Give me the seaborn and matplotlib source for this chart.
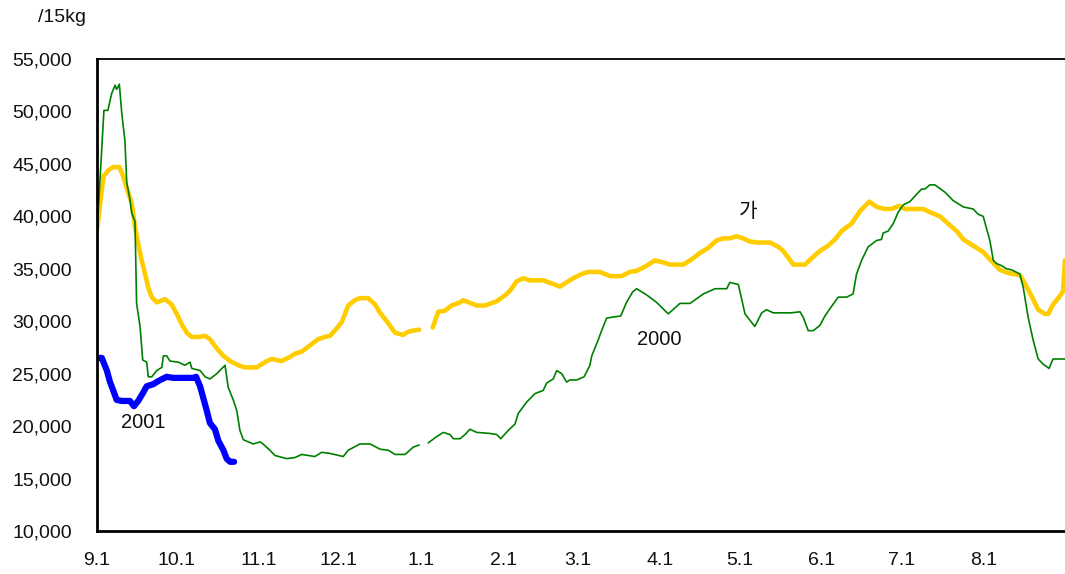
#!/usr/bin/env python3
"""Daily price per 15kg: 2000 season, 2001 season and the 가 series."""

import matplotlib

matplotlib.use("Agg")

import matplotlib.pyplot as plt
import numpy as np
import pandas as pd
import seaborn as sns

# x = days since 9.1, NaN marks the break around 1.1
GREEN_DAYS = [
    0, 2.6, 4.1, 5.5, 6.8, 7.4, 8.4, 9.3, 10.5, 11.2, 12.4, 13.1, 14.3, 14.9,
    16.2, 17.2, 18.7, 19.3, 20.6, 22.5, 24.4, 25.0, 26.2, 27.5, 30.6, 33.1,
    35.0, 35.7, 38.8, 40.7, 42.5, 45.1, 48.2, 49.4, 51.3, 52.6, 53.8, 55.1,
    58.8, 61.4, 62.5, 65.1, 67.0, 71.4, 74.5, 77.1, 82.0, 84.6, 87.7, 92.7,
    94.6, 99.0, 102.8, 106.6, 109.7, 112.2, 116.0, 119.1, 121.3, 122.5,
    124.7, 127.9, 130.4, 132.9, 134.2, 136.7, 138.6, 140.4, 143.0, 148.0,
    150.5, 152.0, 154.9, 157.4, 158.6, 161.8, 164.9, 168.0, 169.3, 171.8,
    173.1, 175.0, 176.8, 178.1, 180.6, 183.4, 185.6, 186.3, 188.7, 190.0,
    191.9, 194.4, 197.2, 199.4, 201.7, 203.2, 207.0, 210.7, 215.1, 219.5,
    223.3, 228.3, 232.7, 237.1, 238.3, 241.5, 244.0, 247.7, 250.3, 252.1,
    254.6, 261.5, 264.7, 265.9, 267.8, 269.7, 272.2, 274.1, 276.0, 279.1,
    282.3, 284.7, 286.0, 287.9, 290.4, 293.6, 295.4, 296.0, 297.9, 299.8,
    301.7, 303.6, 306.1, 308.6, 310.5, 311.7, 313.6, 315.5, 319.3, 322.4,
    326.2, 329.9, 331.8, 333.7, 335.0, 336.2, 337.5, 338.7, 340.6, 342.5,
    344.4, 347.5, 348.8, 350.6, 352.5, 354.4, 356.3, 358.5, 360.0, 364.5,
]
GREEN_PRICE = [
    38500, 50100, 50100, 51700, 52500, 52100, 52600, 49900, 47200, 43200,
    41600, 40300, 39500, 31700, 29500, 26300, 26100, 24700, 24700, 25300,
    25600, 26700, 26700, 26200, 26100, 25800, 26100, 25500, 25300, 24700,
    24500, 25000, 25800, 23700, 22500, 21500, 19600, 18700, 18300, 18500,
    18300, 17700, 17200, 16900, 17000, 17300, 17100, 17500, 17400, 17100,
    17700, 18300, 18300, 17800, 17700, 17300, 17300, 18000, 18200, np.nan,
    18400, 19000, 19400, 19200, 18800, 18800, 19200, 19700, 19400, 19300,
    19200, 18800, 19600, 20200, 21200, 22300, 23100, 23400, 24100, 24500,
    25300, 25000, 24200, 24400, 24400, 24700, 25800, 26700, 28200, 29100,
    30300, 30400, 30500, 31800, 32800, 33100, 32500, 31800, 30700, 31700,
    31700, 32600, 33100, 33100, 33700, 33500, 30700, 29500, 30800, 31100,
    30800, 30800, 30900, 30400, 29100, 29100, 29600, 30500, 31200, 32300,
    32300, 32600, 34500, 35800, 37100, 37700, 37800, 38400, 38600, 39300,
    40400, 41100, 41400, 42100, 42600, 42600, 43000, 43000, 42300, 41500,
    40900, 40700, 40200, 40000, 38800, 37700, 35800, 35500, 35300, 35000,
    34900, 34500, 33200, 30400, 28200, 26400, 25900, 25500, 26400, 26400,
]

YELLOW_DAYS = [
    0, 2.4, 4.3, 6.1, 8.4, 9.9, 11.2, 13.1, 14.3, 15.5, 16.8, 18.1, 19.3,
    20.6, 22.5, 25.6, 28.1, 30.0, 31.9, 33.8, 35.7, 38.1, 40.7, 42.5, 45.1,
    47.6, 50.1, 53.2, 55.7, 60.1, 63.9, 65.8, 69.5, 72.7, 74.5, 77.1, 80.2,
    83.3, 85.8, 87.7, 90.2, 92.1, 94.6, 97.1, 99.0, 102.1, 104.7, 106.6,
    109.1, 112.2, 115.3, 117.2, 119.1, 121.3, 123.5, 126.4, 128.5, 131.0,
    133.5, 136.7, 137.9, 143.0, 146.1, 150.5, 154.3, 156.1, 158.0, 160.5,
    163.0, 168.0, 171.2, 174.3, 179.3, 182.5, 185.0, 189.4, 193.2, 197.5,
    200.7, 203.2, 207.0, 210.1, 213.3, 215.8, 220.8, 223.9, 227.0, 230.2,
    233.3, 235.8, 238.3, 240.8, 243.3, 245.8, 249.0, 253.4, 256.5, 258.4,
    262.2, 266.6, 269.1, 272.2, 275.3, 277.9, 280.4, 284.1, 287.3, 290.8,
    293.6, 296.7, 299.2, 302.1, 304.2, 311.1, 313.6, 317.4, 320.5, 323.7,
    326.2, 329.9, 333.7, 336.2, 340.0, 343.1, 347.5, 349.4, 351.9, 354.4,
    356.9, 358.2, 360.0, 362.6, 363.8, 364.5,
]
YELLOW_PRICE = [
    38700, 43800, 44400, 44700, 44700, 43800, 42700, 41200, 39000, 37400,
    35800, 34500, 33200, 32300, 31800, 32100, 31600, 30700, 29700, 28900,
    28500, 28500, 28600, 28300, 27400, 26700, 26200, 25800, 25600, 25600,
    26200, 26400, 26200, 26600, 26900, 27100, 27700, 28300, 28500, 28600,
    29300, 29900, 31500, 32000, 32200, 32200, 31600, 30800, 30000, 28900,
    28700, 29000, 29100, 29200, np.nan, 29400, 30900, 31000, 31500, 31800,
    32000, 31500, 31500, 31900, 32600, 33100, 33800, 34100, 33900, 33900,
    33600, 33300, 34100, 34500, 34700, 34700, 34300, 34300, 34700, 34800,
    35300, 35800, 35600, 35400, 35400, 35900, 36500, 37000, 37700, 37900,
    37900, 38100, 37900, 37600, 37500, 37500, 37100, 36700, 35400, 35400,
    36000, 36700, 37200, 37800, 38600, 39300, 40500, 41400, 40900, 40700,
    40700, 41000, 40700, 40700, 40400, 40000, 39300, 38600, 37800, 37200,
    36600, 35900, 34900, 34600, 34400, 33600, 32400, 31100, 30700, 30700,
    31600, 32400, 32900, 35800,
]

BLUE_DAYS = [
    0, 1.8, 3.7, 4.9, 6.1, 7.4, 9.3, 12.4, 13.9, 15.5, 17.4, 18.7, 21.2,
    23.1, 26.2, 28.7, 36.3, 37.3, 38.8, 40.0, 41.3, 42.5, 44.4, 45.7, 47.6,
    48.8, 50.1, 51.6,
]
BLUE_PRICE = [
    26500, 26500, 25300, 24200, 23400, 22500, 22400, 22400, 21900, 22400,
    23200, 23800, 24000, 24300, 24700, 24600, 24600, 24700, 23800, 22700,
    21500, 20300, 19700, 18600, 17700, 16900, 16600, 16600,
]

MONTH_STARTS = [0, 30, 61, 91, 122, 153, 181, 212, 242, 273, 303, 334]
MONTH_LABELS = ["9.1", "10.1", "11.1", "12.1", "1.1", "2.1", "3.1",
                "4.1", "5.1", "6.1", "7.1", "8.1"]
Y_TICKS = list(range(10000, 55001, 5000))

sns.set_style("white")
plt.rcParams["font.family"] = ["Liberation Sans", "Noto Sans CJK KR", "DejaVu Sans"]


def segments(days, price):
    """Split a series at NaN so the break around 1.1 stays open."""
    df = pd.DataFrame({"day": days, "price": price})
    group = df["price"].isna().cumsum()
    return [part.dropna() for _, part in df.groupby(group) if part["price"].notna().any()]


fig = plt.figure(figsize=(10.65, 5.74), dpi=100)
ax = fig.add_axes([0.0911, 0.0749, 0.9089, 0.8223])

for part in segments(YELLOW_DAYS, YELLOW_PRICE):
    sns.lineplot(data=part, x="day", y="price", ax=ax, color="#FFCC00",
                 linewidth=3.3, estimator=None, sort=False)
for part in segments(GREEN_DAYS, GREEN_PRICE):
    sns.lineplot(data=part, x="day", y="price", ax=ax, color="#008000",
                 linewidth=1.2, estimator=None, sort=False)
for part in segments(BLUE_DAYS, BLUE_PRICE):
    sns.lineplot(data=part, x="day", y="price", ax=ax, color="#0000FF",
                 linewidth=4.5, estimator=None, sort=False)

ax.set_xlim(0, 364.5)
ax.set_ylim(10000, 55000)
ax.set_xticks(MONTH_STARTS)
ax.set_xticklabels(MONTH_LABELS)
ax.set_yticks(Y_TICKS)
ax.set_yticklabels([f"{v:,}" for v in Y_TICKS])
ax.set_xlabel("")
ax.set_ylabel("")
ax.tick_params(axis="both", direction="in", length=5, width=1.2,
               colors="black", labelsize=14, labelcolor="#111111")
ax.tick_params(axis="y", pad=18)
ax.tick_params(axis="x", pad=15)

for side in ["left", "bottom"]:
    ax.spines[side].set_color("black")
    ax.spines[side].set_linewidth(2.0)
ax.spines["top"].set_color("black")
ax.spines["top"].set_linewidth(1.3)
ax.spines["right"].set_visible(False)

ax.text(245.1, 40440, "가", fontsize=14.5, ha="center", va="center", color="#111111")
ax.text(211.6, 28230, "2000", fontsize=14.5, ha="center", va="center", color="#111111")
ax.text(17.3, 20300, "2001", fontsize=14.5, ha="center", va="center", color="#111111")
fig.text(0.058, 0.969, "/15kg", fontsize=14, ha="center", va="center", color="#111111")

fig.savefig("out.png", dpi=100)
plt.close(fig)
